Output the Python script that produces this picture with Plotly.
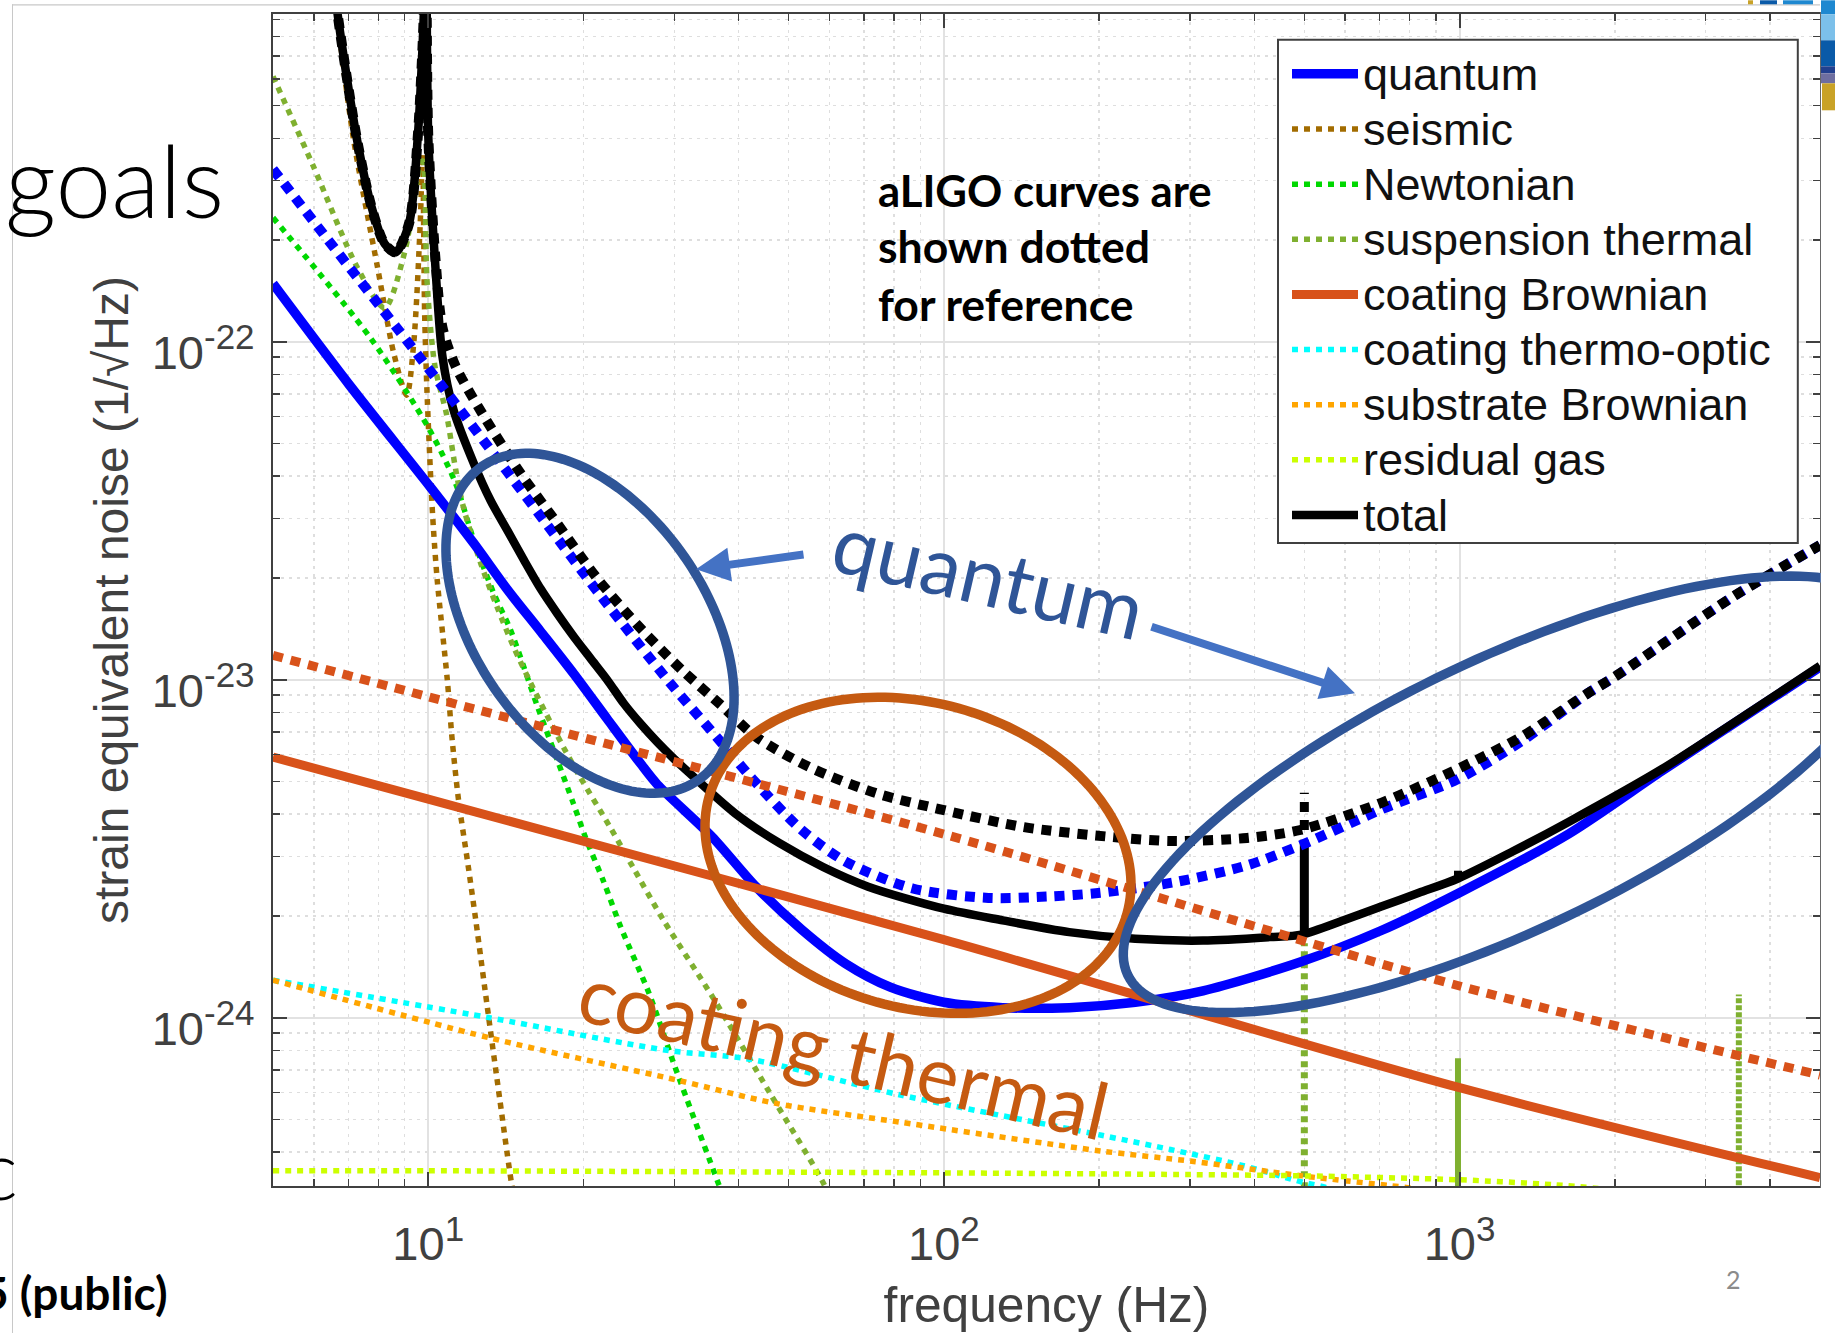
import numpy as np
import plotly.graph_objects as go

# ---------- data (frequency in Hz, strain in 1/sqrt(Hz)) ----------
f_quantum = [5, 7.01, 10.1, 12.26, 14.23, 16.51, 19.16, 22.24, 25.8, 27.8, 35.5, 43.2, 53, 64.6, 78.7, 100, 130, 175, 235, 318, 491, 705, 993, 1630, 2470, 3760, 5000]
h_quantum = [1.486e-22, 7.5e-23, 3.71e-23, 2.53e-23, 1.85e-23, 1.39e-23, 1.04e-23, 7.65e-24, 5.65e-24, 4.9e-24, 3.43e-24, 2.44e-24, 1.82e-24, 1.44e-24, 1.23e-24, 1.11e-24, 1.07e-24, 1.07e-24, 1.11e-24, 1.2e-24, 1.46e-24, 1.81e-24, 2.33e-24, 3.5e-24, 5.37e-24, 8.2e-24, 1.09e-23]

f_seismic = [6.5, 6.67, 7.16, 7.98, 8.57, 9.08, 9.37, 9.65, 9.75, 9.84, 9.94, 10.14, 10.24, 10.41, 10.89, 11.13, 11.45, 11.91, 12.36, 13.1, 13.77, 14.5, 14.7]
h_seismic = [1.3e-21, 9e-22, 3.99e-22, 1.65e-22, 9.27e-23, 6.95e-23, 9.85e-23, 2.25e-22, 3.59e-22, 1.22e-22, 7.28e-23, 3.61e-23, 2.77e-23, 1.97e-23, 9.97e-24, 6.62e-24, 4.4e-24, 2.92e-24, 1.95e-24, 1.0e-24, 5.7e-25, 3.24e-25, 2.9e-25]

f_newtonian = [5, 7.75, 10.04, 11.3, 12.25, 13.4, 14.45, 16.3, 17.8, 19.1, 20.2, 21.9, 23.6, 26.8, 30.1, 36.5, 37.5]
h_newtonian = [2.33e-22, 1.02e-22, 5.52e-23, 3.81e-23, 2.59e-23, 1.8e-23, 1.4e-23, 8.3e-24, 5.78e-24, 4.32e-24, 3.4e-24, 2.52e-24, 1.86e-24, 1.18e-24, 7.14e-25, 3.24e-25, 2.9e-25]

f_suspension = [5, 5.98, 7.3, 8.23, 9.0, 9.75, 9.95, 10.3, 10.86, 11.3, 11.7, 12.64, 13.6, 14.64, 15.8, 17.3, 18.3, 19.7, 22.6, 25, 28.6, 35.6, 46, 58.6, 60]
h_suspension = [6.1e-22, 3.32e-22, 1.65e-22, 1.26e-22, 1.84e-22, 3.55e-22, 1.5e-22, 8.5e-23, 6.06e-23, 4.2e-23, 3.24e-23, 2.21e-23, 1.64e-23, 1.25e-23, 9.77e-24, 7.43e-24, 6.3e-24, 5.15e-24, 3.63e-24, 2.77e-24, 1.94e-24, 1.15e-24, 5.97e-25, 3.2e-25, 2.9e-25]
f_violin_500 = [500, 500]
h_violin_500 = [2.9e-25, 1.66e-24]
f_violin_1000 = [993, 993]
h_violin_1000 = [2.9e-25, 7.58e-25]
f_violin_3480 = [3480, 3480]
h_violin_3480 = [2.9e-25, 1.17e-24]

f_coating = [5, 10, 100, 1000, 5000]
h_coating = [5.9e-24, 4.43e-24, 1.7e-24, 6.2e-25, 3.36e-25]

f_thermo = [5, 13.1, 29, 42, 82.4, 201, 275, 377, 495, 548, 560]
h_thermo = [1.29e-24, 1.0e-24, 8.0e-25, 7.53e-25, 5.9e-25, 4.49e-25, 4.07e-25, 3.66e-25, 3.26e-25, 3.15e-25, 3.1e-25]

f_substrate = [5, 13.3, 30.4, 47, 82.4, 201, 305, 495, 802, 830]
h_substrate = [1.29e-24, 8.67e-25, 6.53e-25, 5.58e-25, 4.9e-25, 4.03e-25, 3.75e-25, 3.4e-25, 3.13e-25, 3.1e-25]

f_gas = [5, 10, 30, 100, 300, 500, 1000, 1530, 1950]
h_gas = [3.52e-25, 3.52e-25, 3.5e-25, 3.47e-25, 3.43e-25, 3.4e-25, 3.31e-25, 3.2e-25, 3.1e-25]

f_total = [6.5, 6.67, 7.01, 7.3, 7.75, 8.23, 8.65, 9.18, 9.55, 9.75, 9.84, 9.9, 10.0, 10.33, 10.66, 11.2, 12.26, 13.21, 14.23, 15.33, 16.51, 17.79, 19.16, 20.64, 22.24, 23.95, 25.8, 27.8, 29.9, 32.2, 39.3, 48, 58.3, 71.3, 100, 130, 175, 235, 318, 428, 494, 596, 705, 834, 993, 1267, 1630, 2470, 3760, 5000]
h_total = [1.3e-21, 9.36e-22, 5.58e-22, 3.86e-22, 2.53e-22, 1.95e-22, 1.84e-22, 2.24e-22, 4.1e-22, 7.5e-22, 1.1e-21, 1.5e-21, 4.1e-22, 1.65e-22, 9e-23, 6.27e-23, 4.36e-23, 3.39e-23, 2.77e-23, 2.26e-23, 1.86e-23, 1.57e-23, 1.34e-23, 1.156e-23, 9.98e-24, 8.5e-24, 7.41e-24, 6.54e-24, 5.85e-24, 5.27e-24, 4.03e-24, 3.28e-24, 2.79e-24, 2.44e-24, 2.1e-24, 1.94e-24, 1.79e-24, 1.71e-24, 1.69e-24, 1.73e-24, 1.76e-24, 1.94e-24, 2.13e-24, 2.34e-24, 2.58e-24, 3.1e-24, 3.8e-24, 5.44e-24, 8.24e-24, 1.1e-23]
f_total_500 = [500, 500]
h_total_500 = [1.77e-24, 3.36e-24]
f_total_1000 = [993, 993]
h_total_1000 = [2.58e-24, 2.72e-24]

f_aligo_quantum = [5, 6.73, 8.65, 10.57, 14.1, 17.9, 21.8, 29.4, 36.2, 42.5, 53, 64.6, 87, 122, 158, 201, 282, 387, 491, 705, 993, 1324, 1770, 2000, 3370, 5000]
h_aligo_quantum = [3.24e-22, 1.81e-22, 1.11e-22, 7.48e-23, 4.2e-23, 2.59e-23, 1.74e-23, 9.8e-24, 6.78e-24, 5.09e-24, 3.59e-24, 2.89e-24, 2.41e-24, 2.26e-24, 2.28e-24, 2.34e-24, 2.52e-24, 2.82e-24, 3.23e-24, 4.13e-24, 5.08e-24, 6.6e-24, 9.1e-24, 1.02e-23, 1.75e-23, 2.5e-23]

f_aligo_total = [6.5, 6.67, 7.01, 7.3, 7.75, 8.23, 8.65, 9.18, 9.55, 9.75, 9.84, 9.9, 10.0, 10.33, 10.66, 11.3, 12.73, 15.1, 17.5, 21.4, 25.9, 31, 37, 43.3, 55, 74.3, 100, 143, 213, 276, 387, 491, 705, 993, 1324, 1770, 2000, 3370, 5000]
h_aligo_total = [1.3e-21, 9.36e-22, 5.58e-22, 3.86e-22, 2.53e-22, 1.95e-22, 1.84e-22, 2.24e-22, 4.1e-22, 7.5e-22, 1.1e-21, 1.5e-21, 4.1e-22, 1.75e-22, 1.1e-22, 8.46e-23, 6.13e-23, 4.08e-23, 3.0e-23, 1.97e-23, 1.41e-23, 1.07e-23, 8.4e-24, 6.76e-24, 5.5e-24, 4.6e-24, 4.11e-24, 3.66e-24, 3.42e-24, 3.33e-24, 3.4e-24, 3.59e-24, 4.32e-24, 5.45e-24, 6.8e-24, 9.1e-24, 1.02e-23, 1.75e-23, 2.5e-23]
f_aligo_total_500 = [500, 500]
h_aligo_total_500 = [3.59e-24, 4.63e-24]

f_aligo_coating = [5, 10, 100, 1000, 5000]
h_aligo_coating = [1.18e-23, 8.9e-24, 3.49e-24, 1.24e-24, 6.76e-25]

x_ticks = [10, 100, 1000]
y_ticks = [1e-24, 1e-23, 1e-22]
SUP = 35


def exponent(e):
    return f'10<sup><span style="font-size:{SUP}px">{e}</span></sup>'


x_ticktext = [exponent(1), exponent(2), exponent(3)]
y_ticktext = [exponent(-24), exponent(-23), exponent(-22)]
x_minor = [m * 10 ** e for e in (0, 1, 2, 3) for m in range(2, 10) if 5 <= m * 10 ** e <= 5000 and m * 10 ** e not in x_ticks]
y_minor = [float(f"{m}e{e}") for e in (-25, -24, -23, -22) for m in range(2, 10)]

# ---------- layout geometry in page pixels ----------
W, H = 1835, 1333
L, R, T, B = 273.0, 1820.0, 13.7, 1185.7


def px(x):
    return (x - L) / (R - L)


def py(y):
    return (B - y) / (B - T)


def ellipse(cx, cy, a, b, deg, color, width=9.5):
    t = np.linspace(0, 2 * np.pi, 181)
    th = np.radians(deg)
    xs = cx + a * np.cos(t) * np.cos(th) - b * np.sin(t) * np.sin(th)
    ys = cy + a * np.cos(t) * np.sin(th) + b * np.sin(t) * np.cos(th)
    d = "M" + "L".join(f"{px(x):.5f},{py(y):.5f}" for x, y in zip(xs, ys)) + "Z"
    return dict(type="path", path=d, xref="paper", yref="paper", layer="above",
                line=dict(color=color, width=width))


def box(x0, y0, x1, y1, color, line=None):
    return dict(type="rect", xref="paper", yref="paper", layer="above",
                x0=px(x0), x1=px(x1), y0=py(y0), y1=py(y1),
                fillcolor=color, line=dict(width=2, color=line) if line else dict(width=0))


def label(x, y, text, size, color="black", family="Lato", xanchor="left", yanchor="middle", angle=0):
    return dict(x=px(x), y=py(y), xref="paper", yref="paper", text=text, showarrow=False,
                xanchor=xanchor, yanchor=yanchor, textangle=angle,
                font=dict(family=family, size=size, color=color))


def arrow(tail, tip, color="#4472C4"):
    return dict(x=px(tip[0]), y=py(tip[1]), xref="paper", yref="paper", text="",
                showarrow=True, ax=tail[0] - tip[0], ay=tail[1] - tip[1],
                arrowhead=2, arrowsize=0.85, arrowwidth=8, arrowcolor=color)


DOT = "6px,6px"
FAT = "10px,8px"
LEG = 45
fig = go.Figure()


def add(name, f, h, color, width, dash="solid", legend=False, rank=None, shape="spline"):
    text = f'<span style="font-size:{LEG}px">{name}</span>' if legend else name
    fig.add_trace(go.Scatter(x=f, y=h, mode="lines", name=text, showlegend=legend,
                             legendrank=rank if rank else 1000, hoverinfo="skip",
                             line=dict(color=color, width=width, dash=dash, shape=shape, smoothing=0.8 if shape == "spline" else None)))


C_SEIS, C_NEWT, C_SUSP = "#A26C00", "#00D800", "#7FB030"
C_QUANT, C_COAT, C_TOTAL = "#0000FF", "#D8521A", "#000000"

add("seismic", f_seismic, h_seismic, C_SEIS, 5.5, DOT, True, 2)
add("Newtonian", f_newtonian, h_newtonian, C_NEWT, 5.5, DOT, True, 3)
add("suspension thermal", f_suspension, h_suspension, C_SUSP, 5.5, DOT, True, 4)
add("violin 500", f_violin_500, h_violin_500, C_SUSP, 7, "6px,5px", shape="linear")
add("violin 1000", f_violin_1000, h_violin_1000, C_SUSP, 6, "solid", shape="linear")
add("violin 3480", f_violin_3480, h_violin_3480, C_SUSP, 6, "5px,2px", shape="linear")
add("coating thermo-optic", f_thermo, h_thermo, "#00FFFF", 5.5, DOT, True, 6)
add("substrate Brownian", f_substrate, h_substrate, "#FFA500", 5.5, DOT, True, 7)
add("residual gas", f_gas, h_gas, "#CCFF00", 5.5, DOT, True, 8)
add("quantum", f_quantum, h_quantum, C_QUANT, 9.5, "solid", True, 1)
add("total", f_total, h_total, C_TOTAL, 8.5, "solid", True, 9)
add("total 500", f_total_500, h_total_500, C_TOTAL, 9, "solid", shape="linear")
add("total 1000", f_total_1000, h_total_1000, C_TOTAL, 8, "solid", shape="linear")
add("coating Brownian", f_coating, h_coating, C_COAT, 9, "solid", True, 5)
add("aLIGO quantum", f_aligo_quantum, h_aligo_quantum, C_QUANT, 10, FAT)
add("aLIGO total", f_aligo_total, h_aligo_total, C_TOTAL, 10, FAT)
add("aLIGO total 500", f_aligo_total_500, h_aligo_total_500, C_TOTAL, 9, FAT, shape="linear")
add("aLIGO coating", f_aligo_coating, h_aligo_coating, C_COAT, 9, FAT)

AXC = "#404040"
TXT = "#404040"
GRID = "#e2e2e2"
MINOR = "#dedede"


def axis(ticks, text, minor, rng, title, size, standoff, **kw):
    return dict(type="log", range=rng, tickmode="array", tickvals=ticks, ticktext=text,
                ticks="inside", ticklen=14, tickwidth=2, tickcolor=AXC, showline=True,
                linecolor=AXC, linewidth=2, mirror="ticks", showgrid=True, gridcolor=GRID, gridwidth=2,
                zeroline=False, tickfont=dict(family="Liberation Sans", size=47, color=TXT),
                title=dict(text=title, standoff=standoff,
                           font=dict(family="Liberation Sans", size=size, color=TXT)),
                minor=dict(tickmode="array", tickvals=minor, ticks="inside", ticklen=7, tickwidth=1.5,
                           tickcolor=AXC, showgrid=True, gridcolor=MINOR, gridwidth=1.5, griddash="3px,5px"),
                **kw)


shapes = [
    box(1278, 39.4, 1797.8, 542.7, "#ffffff", line="#404040"),  # legend frame
    ellipse(918, 855, 217, 152.5, 15.6, "#C55A11"),
    ellipse(590, 623, 190.5, 115.6, 55.4, "#2F5597"),
    ellipse(1508, 794, 421, 135.7, -25.4, "#2F5597"),
    # edge of the cropped screenshot and slide frame
    box(1820.8, 0, 1835, 1333, "#ffffff"),
    box(12, 4, 1820, 5.2, "#c8c8c8"),
    box(12, 4, 13, 1333, "#c8c8c8"),
    # cropped logo at the top right
    box(1821, 0, 1835, 14, "#1E88D0"),
    box(1821, 14, 1835, 40, "#7CC0EA"),
    box(1821, 40, 1835, 66, "#0A5AA8"),
    box(1821, 66, 1835, 73, "#22408F"),
    box(1821, 73, 1835, 83, "#6E6EA0"),
    box(1822, 83, 1835, 110, "#C9A227"),
    box(1748, 0, 1753, 4, "#C9A227"),
    box(1760, 0, 1777, 4, "#0A5AA8"),
    box(1783, 0, 1813, 4, "#1E88D0"),
]

annotations = [
    label(3, 179, "goals", 100, family="Lato Light, Lato"),
    label(20, 1168, "c", 82, family="Lato Light, Lato", xanchor="right"),
    label(170, 1292, "<b>5 (public)</b>", 46, xanchor="right"),
    label(876, 190, "<b>aLIGO curves are</b>", 43.7),
    label(876, 245, "<b>shown dotted</b>", 44.5),
    label(876, 303, "<b>for reference</b>", 44.5),
    label(1733, 1279, "2", 25, color="#8b8b8b", xanchor="center"),
    label(989, 574, "quantum", 81, color="#2F5597", xanchor="center", angle=13),
    label(844, 1050, "coating thermal", 79, color="#C55A11", xanchor="center", angle=13),
    arrow((805, 554), (696, 569)),
    arrow((1150, 626), (1355, 693)),
]

fig.update_layout(
    width=W, height=H, autosize=False,
    margin=dict(l=L, r=W - R, t=T, b=H - B, pad=0, autoexpand=False),
    paper_bgcolor="white", plot_bgcolor="white",
    xaxis=axis(x_ticks, x_ticktext, x_minor, [np.log10(5), np.log10(5000)], "frequency (Hz)", 49.7, 20, ticklabelstandoff=16),
    yaxis=axis(y_ticks, y_ticktext, y_minor, [-24.4985, -21.03], "strain equivalent noise (1/√Hz)", 48, 8,
               ticklabelstandoff=7, ticklabelshift=11),
    legend=dict(x=px(1281), y=py(41), xanchor="left", yanchor="top", bgcolor="rgba(0,0,0,0)",
                borderwidth=0, itemwidth=66, indentation=6,
                font=dict(family="Liberation Sans", size=40.1, color="#111111"),
                traceorder="normal"),
    shapes=shapes, annotations=annotations,
)

fig.write_html("out.html", config=dict(displayModeBar=False, staticPlot=True),
               post_script="document.body.style.margin='0';document.body.style.overflow='hidden';")
